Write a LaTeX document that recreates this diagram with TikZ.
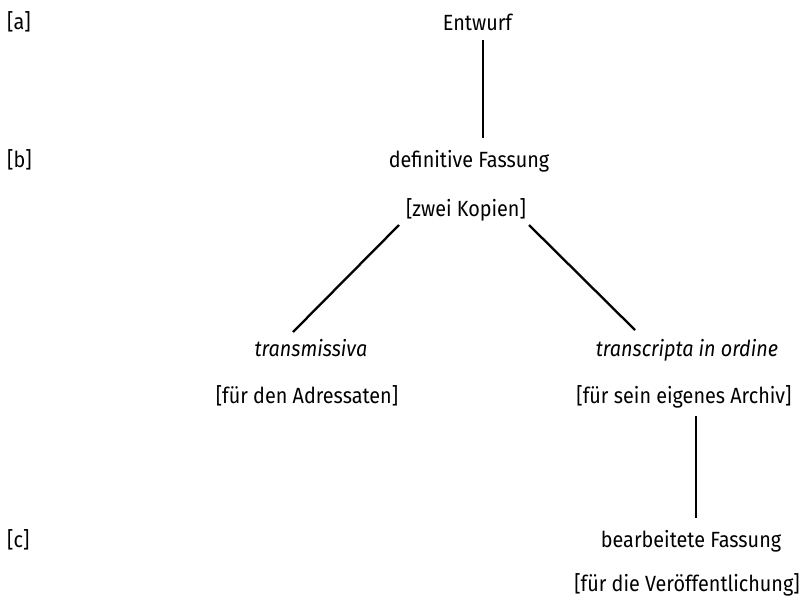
\documentclass[tikz,border=0pt]{standalone}
\usepackage{fontspec}
\setmainfont{Fira Sans}[FakeStretch=0.9]
\begin{document}
\begin{tikzpicture}[x=1pt,y=-1pt,
  lbl/.style={inner sep=0pt,anchor=base,font=\fontsize{22}{26}\selectfont},
  conn/.style={line width=2.3pt,line cap=butt}]
\useasboundingbox (0,0) rectangle (804,600);
\node[lbl,anchor=base west] (la) at (7,29) {[a]};
\node[lbl,anchor=base west] (lb) at (7,167) {[b]};
\node[lbl,anchor=base west] (lc) at (7,547) {[c]};
\node[lbl] (entwurf) at (477.5,30) {Entwurf};
\node[lbl] (deffass) at (469,167) {definitive Fassung};
\node[lbl] (zwei) at (466,216) {[zwei Kopien]};
\node[lbl] (trans) at (311,356) {\itshape transmissiva};
\node[lbl] (adress) at (307,403) {[für den Adressaten]};
\node[lbl] (transcr) at (687,356) {\itshape transcripta in ordine};
\node[lbl] (archiv) at (684,403) {[für sein eigenes Archiv]};
\node[lbl] (bearb) at (691,547) {bearbeitete Fassung};
\node[lbl] (veroeff) at (687,591) {[für die Veröffentlichung]};
\draw[conn] ([xshift=5.5pt,yshift=-10pt]entwurf.base) -- ([xshift=14pt,yshift=29pt]deffass.base);
\draw[conn] ([xshift=-67pt,yshift=-9pt]zwei.base) -- ([xshift=-18pt,yshift=24pt]trans.base);
\draw[conn] ([xshift=63pt,yshift=-9pt]zwei.base) -- ([xshift=-52pt,yshift=26pt]transcr.base);
\draw[conn] ([xshift=12pt,yshift=-13pt]archiv.base) -- ([xshift=5pt,yshift=29pt]bearb.base);
\end{tikzpicture}
\end{document}
